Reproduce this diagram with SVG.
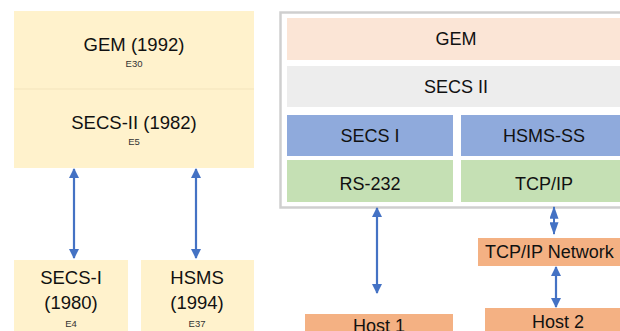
<svg xmlns="http://www.w3.org/2000/svg" width="620" height="331" viewBox="0 0 620 331">
<defs>
<style>
text{font-family:"Liberation Sans",Arial,sans-serif;fill:#111;text-anchor:middle}
.big{font-size:18.5px}
.med{font-size:18px}
.sm{font-size:9.5px;fill:#333}
.yel{fill:#FFF2CC}
.arr{stroke:#4472C4;stroke-width:2.2;fill:none;marker-start:url(#ah);marker-end:url(#ah)}
.host{fill:#F4B183}
</style>
<marker id="ah" viewBox="0 0 10 10" refX="9" refY="5" markerWidth="11" markerHeight="10" markerUnits="userSpaceOnUse" orient="auto-start-reverse">
<path d="M0,0 L10,5 L0,10 z" fill="#4472C4"/>
</marker>
<marker id="ah2" viewBox="0 0 14 10" refX="13" refY="5" markerWidth="14" markerHeight="9" markerUnits="userSpaceOnUse" orient="auto-start-reverse">
<path d="M0,0 L14,5 L0,10 z" fill="#4472C4"/>
</marker>
</defs>
<rect width="620" height="331" fill="#fff"/>
<g id="gem-secs2">
<rect class="yel" x="14" y="11" width="240" height="157"/>
<line x1="14" y1="89" x2="254" y2="89" stroke="#F3E4BC" stroke-width="1"/>
<text class="big" x="134" y="51">GEM (1992)</text>
<text class="sm" x="134" y="67">E30</text>
<text class="big" x="134" y="129">SECS-II (1982)</text>
<text class="sm" x="134" y="145">E5</text>
</g>
<g id="secs1">
<rect class="yel" x="14" y="260" width="114" height="71"/>
<text class="big" x="71" y="284">SECS-I</text>
<text class="big" x="71" y="309">(1980)</text>
<text class="sm" x="71" y="327">E4</text>
</g>
<g id="hsms">
<rect class="yel" x="141" y="260" width="113" height="71"/>
<text class="big" x="197" y="284">HSMS</text>
<text class="big" x="197" y="309">(1994)</text>
<text class="sm" x="197" y="327">E37</text>
</g>
<g id="stack">
<rect x="280.5" y="12.5" width="360" height="195" fill="#fff" stroke="#CFCFCF" stroke-width="2.5"/>
<g id="gem"><rect x="287" y="18" width="340" height="42" fill="#FBE5D6"/><text class="med" x="456" y="45">GEM</text></g>
<g id="secsii"><rect x="287" y="66" width="340" height="41" fill="#EDEDED"/><text class="med" x="456" y="93">SECS II</text></g>
<g id="secsi"><rect x="287" y="115" width="166" height="41" fill="#8FAADC"/><text class="med" x="370" y="142">SECS I</text></g>
<g id="hsmsss"><rect x="461" y="115" width="166" height="41" fill="#8FAADC"/><text class="med" x="544" y="142">HSMS-SS</text></g>
<g id="rs232"><rect x="287" y="160" width="166" height="42" fill="#C5E0B4"/><text class="med" x="370" y="190">RS-232</text></g>
<g id="tcpip"><rect x="461" y="160" width="166" height="42" fill="#C5E0B4"/><text class="med" x="544" y="190">TCP/IP</text></g>
</g>
<g id="network">
<rect class="host" x="478" y="238" width="150" height="28"/>
<text class="med" x="485" y="258" style="text-anchor:start">TCP/IP Network</text>
</g>
<g id="host1">
<rect class="host" x="305" y="314" width="148" height="20"/>
<text class="med" x="379" y="332">Host 1</text>
</g>
<g id="host2">
<rect class="host" x="485" y="308" width="146" height="26"/>
<text class="med" x="558" y="328">Host 2</text>
</g>
<g id="connectors">
<line class="arr" x1="74" y1="169" x2="74" y2="258"/>
<line class="arr" x1="196" y1="169" x2="196" y2="258"/>
<line class="arr" x1="377" y1="208" x2="377" y2="293"/>
<line x1="554" y1="207" x2="554" y2="234" stroke="#4472C4" stroke-width="2" marker-start="url(#ah2)" marker-end="url(#ah2)"/>
<line class="arr" x1="556" y1="267" x2="556" y2="307"/>
</g>
</svg>
